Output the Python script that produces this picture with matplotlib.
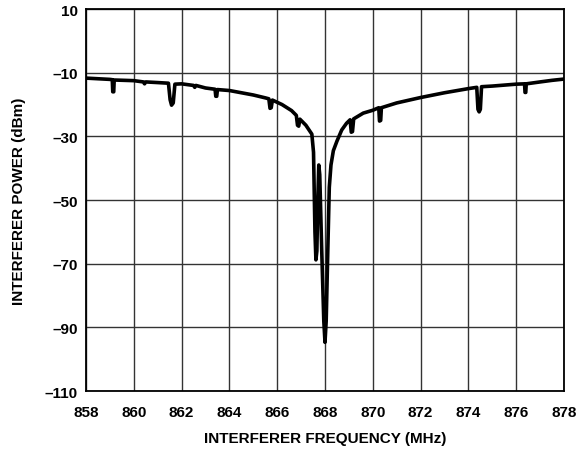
import numpy as np
import matplotlib
matplotlib.use('Agg')
import matplotlib.pyplot as plt

# values (MHz, dBm)
freq = [858.0, 858.5, 859.0, 859.10, 859.12, 859.16, 859.18, 859.6, 860.0,
        860.4, 860.45, 860.5, 861.0, 861.45, 861.52, 861.58, 861.65, 861.72,
        862.0, 862.5, 862.55, 862.6, 863.0, 863.40, 863.43, 863.47, 863.50,
        864.0, 864.5, 865.0, 865.5, 865.65, 865.70, 865.75, 865.80, 866.2,
        866.6, 866.80, 866.85, 866.90, 866.95, 867.2, 867.45, 867.52, 867.58,
        867.62, 867.66, 867.70, 867.74, 867.78, 867.86, 867.95, 868.0, 868.05,
        868.12, 868.18, 868.25, 868.35, 868.5, 868.7, 868.9, 869.05, 869.10,
        869.15, 869.2, 869.6, 870.0, 870.25, 870.28, 870.33, 870.36, 871.0,
        872.0, 873.0, 874.0, 874.35, 874.40, 874.45, 874.50, 874.55, 875.0,
        875.5, 876.0, 876.35, 876.37, 876.40, 876.42, 877.0, 877.5, 878.0]
power = [-11.7, -11.9, -12.1, -12.2, -16.0, -16.0, -12.3, -12.4, -12.5,
         -12.9, -13.5, -12.9, -13.1, -13.3, -18.5, -20.2, -19.5, -13.6,
         -13.5, -14.0, -14.6, -14.0, -14.8, -15.2, -17.4, -17.4, -15.3,
         -15.6, -16.3, -17.0, -17.9, -18.2, -21.2, -21.0, -18.6, -20.0,
         -21.9, -23.4, -26.5, -26.8, -24.6, -26.5, -29.3, -35.0, -60.0,
         -68.8, -66.0, -50.0, -39.0, -42.0, -65.0, -88.0, -94.7, -88.0,
         -65.0, -46.0, -39.0, -34.5, -31.5, -28.0, -25.9, -24.8, -28.7,
         -28.5, -24.5, -22.7, -21.8, -21.0, -25.2, -25.0, -21.0, -19.5,
         -17.8, -16.3, -15.0, -14.6, -21.5, -22.3, -21.5, -14.4, -14.2,
         -13.9, -13.6, -13.5, -16.2, -16.2, -13.5, -12.9, -12.4, -12.0]

xticks = [858, 860, 862, 864, 866, 868, 870, 872, 874, 876, 878]
yticks = [10, -10, -30, -50, -70, -90, -110]
ylabels = ['10', '\u201310', '\u201330', '\u201350', '\u201370', '\u201390', '\u2013110']

plt.rcParams['font.family'] = ['Liberation Sans', 'DejaVu Sans']

fig = plt.figure(figsize=(5.83, 4.52), dpi=100)
ax = fig.add_axes([0.1475, 0.1327, 0.8199, 0.8451])

ax.plot(freq, power, color='black', lw=2.6, solid_joinstyle='round', zorder=3)

ax.set_xlim(858, 878)
ax.set_ylim(-110, 10)
ax.set_xticks(xticks)
ax.set_xticklabels([str(t) for t in xticks], fontsize=11, fontweight='bold')
ax.set_yticks(yticks)
ax.set_yticklabels(ylabels, fontsize=11, fontweight='bold')
ax.tick_params(axis='x', length=0, pad=10)
ax.tick_params(axis='y', length=0, pad=6)
ax.grid(True, color='#333333', lw=1.0)
for s in ax.spines.values():
    s.set_color('black')
    s.set_linewidth(1.3)

ax.set_xlabel('INTERFERER FREQUENCY (MHz)', fontsize=11, fontweight='bold', labelpad=9)
ax.set_ylabel('INTERFERER POWER (dBm)', fontsize=11, fontweight='bold', labelpad=13)

fig.savefig('out.png', dpi=100)
